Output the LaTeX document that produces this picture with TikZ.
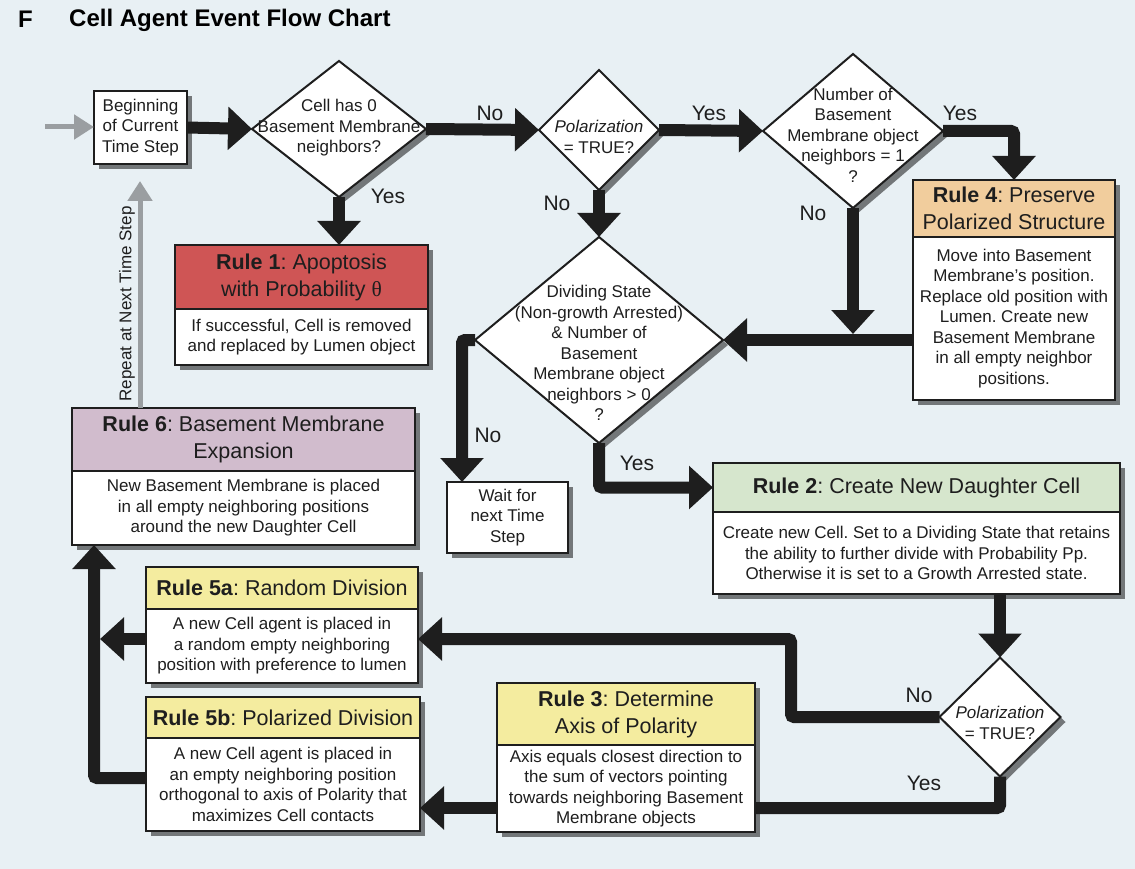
\documentclass[tikz,border=0pt]{standalone}
\usepackage{fontspec}
\setmainfont{Liberation Sans}
\newfontfamily\thetafont{Liberation Serif}
\frenchspacing
\usetikzlibrary{positioning,shapes.geometric,arrows.meta,shadows,calc}

\definecolor{bgblue}{HTML}{E8F0F4}
\definecolor{inkblack}{HTML}{1E1E1E}
\definecolor{arrowgray}{HTML}{9A9EA1}
\definecolor{r1red}{HTML}{CF5555}
\definecolor{r2green}{HTML}{D6E6CD}
\definecolor{r4orange}{HTML}{F1CD9D}
\definecolor{r6mauve}{HTML}{D1BCCD}
\definecolor{ruleyellow}{HTML}{F4EC9F}

\newcommand{\txtbody}{\fontsize{17}{20.5}\selectfont}
\newcommand{\txthead}{\fontsize{21.5}{27}\selectfont}
\newcommand{\txtyes}{\fontsize{21}{24}\selectfont}
\newcommand{\txttitle}{\fontsize{24}{28}\selectfont\bfseries}

\tikzset{
  boxshadow/.style={drop shadow={shadow xshift=5pt, shadow yshift=-5pt, opacity=0.5, fill=black, draw=none}},
  rulehead/.style={draw=inkblack, line width=2pt, fill=#1, inner sep=0pt, outer sep=0pt,
    align=center, font=\txthead, text=inkblack, boxshadow},
  rulebody/.style={draw=inkblack, line width=2pt, fill=white, inner sep=0pt, outer sep=0pt,
    align=center, font=\txtbody, text=inkblack, boxshadow},
  decision/.style={diamond, draw=inkblack, line width=2pt, fill=white, inner sep=0pt, outer sep=0pt, boxshadow},
  inside/.style={align=center, font=\txtbody, text=inkblack, inner sep=0pt},
  answer/.style={font=\txtyes, text=inkblack, inner sep=0pt},
  flow/.style={draw=inkblack, line width=12pt, rounded corners=3pt, -{Triangle[length=24pt, width=42pt]}},
  flowline/.style={draw=inkblack, line width=12pt, rounded corners=3pt},
  repeatflow/.style={draw=arrowgray, line width=5pt, -{Triangle[length=20pt, width=24pt]}},
}

\begin{document}
\begin{tikzpicture}[x=1pt, y=-1pt]
  \fill[bgblue] (0,0) rectangle (1135,869);
  \useasboundingbox (0,0) rectangle (1135,869);

  % title
  \node[anchor=west, inner sep=0pt, font=\txttitle] (panel) at (18,19) {F};
  \node[anchor=west, inner sep=0pt, font=\txttitle] (title) at (69,20) {Cell Agent Event Flow Chart};

  % start and decisions
  \node[rulebody, minimum width=93pt, minimum height=73pt] (start) at (140.5,127.5) {Beginning\\of Current\\Time Step};
  \node[decision, minimum width=174pt, minimum height=136pt,
    label={[inside, yshift=1pt]center:{Cell has 0\\Basement Membrane\\neighbors?}}] (hasBM) at (339,129) {};
  \node[decision, minimum width=120pt, minimum height=120pt,
    label={[inside, yshift=-7pt]center:{\textit{Polarization}\\= TRUE?}}] (polarA) at (599,130) {};
  \node[decision, minimum width=180pt, minimum height=154pt,
    label={[inside, yshift=-4pt]center:{Number of\\Basement\\Membrane object\\neighbors = 1\\?}}] (countBM) at (853,131) {};
  \node[decision, minimum width=248pt, minimum height=206pt,
    label={[inside, yshift=-13pt]center:{Dividing State\\(Non-growth Arrested)\\\& Number of\\Basement\\Membrane object\\neighbors > 0\\?}}] (divide) at (599,340) {};
  \node[decision, minimum width=121pt, minimum height=119pt,
    label={[inside, yshift=-6pt]center:{\textit{Polarization}\\= TRUE?}}] (polarB) at (1000,717) {};

  % rules
  \node[rulehead=r1red, minimum width=253pt, minimum height=64pt] (r1h) at (301.5,277) {\textbf{Rule 1}: Apoptosis\\with Probability {\thetafont θ}};
  \node[rulebody, minimum width=253pt, minimum height=56pt, below=0pt of r1h] (r1b) {If successful, Cell is removed\\and replaced by Lumen object};

  \node[rulehead=r4orange, minimum width=202pt, minimum height=57pt] (r4h) at (1014,208.5) {\textbf{Rule 4}: Preserve\\Polarized Structure};
  \node[rulebody, minimum width=202pt, minimum height=163pt, below=0pt of r4h] (r4b) {Move into Basement\\Membrane’s position.\\Replace old position with\\Lumen. Create new\\Basement Membrane\\in all empty neighbor\\positions.};

  \node[rulehead=r2green, minimum width=407pt, minimum height=49pt] (r2h) at (916.5,487.5) {\textbf{Rule 2}: Create New Daughter Cell};
  \node[rulebody, minimum width=407pt, minimum height=82pt, below=0pt of r2h] (r2b) {Create new Cell. Set to a Dividing State that retains\\the ability to further divide with Probability Pp.\\Otherwise it is set to a Growth Arrested state.};

  \node[rulehead=r6mauve, minimum width=343pt, minimum height=63pt] (r6h) at (243.5,439.5) {\textbf{Rule 6}: Basement Membrane\\Expansion};
  \node[rulebody, minimum width=343pt, minimum height=74pt, below=0pt of r6h] (r6b) {New Basement Membrane is placed\\in all empty neighboring positions\\around the new Daughter Cell};

  \node[rulehead=ruleyellow, minimum width=272pt, minimum height=42pt] (r5ah) at (282,588) {\textbf{Rule 5a}: Random Division};
  \node[rulebody, minimum width=272pt, minimum height=74pt, below=0pt of r5ah] (r5ab) {A new Cell agent is placed in\\a random empty neighboring\\position with preference to lumen};

  \node[rulehead=ruleyellow, minimum width=274pt, minimum height=41pt] (r5bh) at (283,717.5) {\textbf{Rule 5b}: Polarized Division};
  \node[rulebody, minimum width=274pt, minimum height=93pt, below=0pt of r5bh] (r5bb) {A new Cell agent is placed in\\an empty neighboring position\\orthogonal to axis of Polarity that\\maximizes Cell contacts};

  \node[rulehead=ruleyellow, minimum width=258pt, minimum height=62pt] (r3h) at (626,714) {\textbf{Rule 3}: Determine\\Axis of Polarity};
  \node[rulebody, minimum width=258pt, minimum height=87pt, below=0pt of r3h] (r3b) {Axis equals closest direction to\\the sum of vectors pointing\\towards neighboring Basement\\Membrane objects};

  \node[rulebody, minimum width=121pt, minimum height=71pt] (wait) at (507.5,517.5) {Wait for\\next Time\\Step};

  % helper points
  \coordinate (entry) at (45,127);
  \coordinate (repeatCol) at (140,0);
  \coordinate (noTurn) at (791,639);
  \coordinate (rowA) at (0,639);
  \coordinate (yesRow) at (0,808);
  \coordinate (leftBus) at (94,778);

  % connectors
  \draw[flow] (start.east) -- (hasBM.west);
  \draw[flow] (hasBM.east) -- (polarA.west);
  \draw[flow] (hasBM.south) -- (hasBM.south |- r1h.north);
  \draw[flow] (polarA.east) -- (countBM.west);
  \draw[flow] (polarA.south) -- (divide.north);
  \draw[flow] (countBM.east) -| (r4h.north);
  \draw[flow] (countBM.south) -- ($(countBM.south |- divide.east)+(0,-6)$);
  \draw[flow] (r4b.west |- divide.east) -- (divide.east);
  \draw[flow] (divide.west) -| ($(wait.north west)+(15,0)$);
  \draw[flow] (divide.south) |- (r2h.west);
  \draw[flow] (r2b.south -| polarB.north) -- (polarB.north);
  \draw[flow] (polarB.west) -| (noTurn) -- (noTurn -| r5ab.east);
  \draw[flowline] (polarB.south) |- (r3b.east |- yesRow);
  \draw[flow] (r3b.west |- yesRow) -- (r5bb.east |- yesRow);
  \draw[flow] (r5ab.west |- rowA) -- ($(leftBus |- rowA)+(6,0)$);
  \draw[flow] (r5bb.west |- leftBus) -- (leftBus) -- (leftBus |- r6b.south);

  \draw[repeatflow] (entry) -- (start.west |- entry);
  \draw[repeatflow] (r6h.north -| repeatCol) -- ($(start.south -| repeatCol)+(0,17)$);
  \node[rotate=90, font=\txtbody, text=inkblack, inner sep=0pt] (repeatLbl) at (127,304) {Repeat at Next Time Step};

  % answers
  \node[answer] (yes1) at (388,196) {Yes};
  \node[answer] (no1) at (490,113) {No};
  \node[answer] (yes2) at (709,113) {Yes};
  \node[answer] (no2) at (557,203) {No};
  \node[answer] (yes3) at (960,113) {Yes};
  \node[answer] (no3) at (813,213) {No};
  \node[answer] (no4) at (488,435) {No};
  \node[answer] (yes4) at (637,463) {Yes};
  \node[answer] (no5) at (919,695) {No};
  \node[answer] (yes5) at (924,783) {Yes};
\end{tikzpicture}
\end{document}
